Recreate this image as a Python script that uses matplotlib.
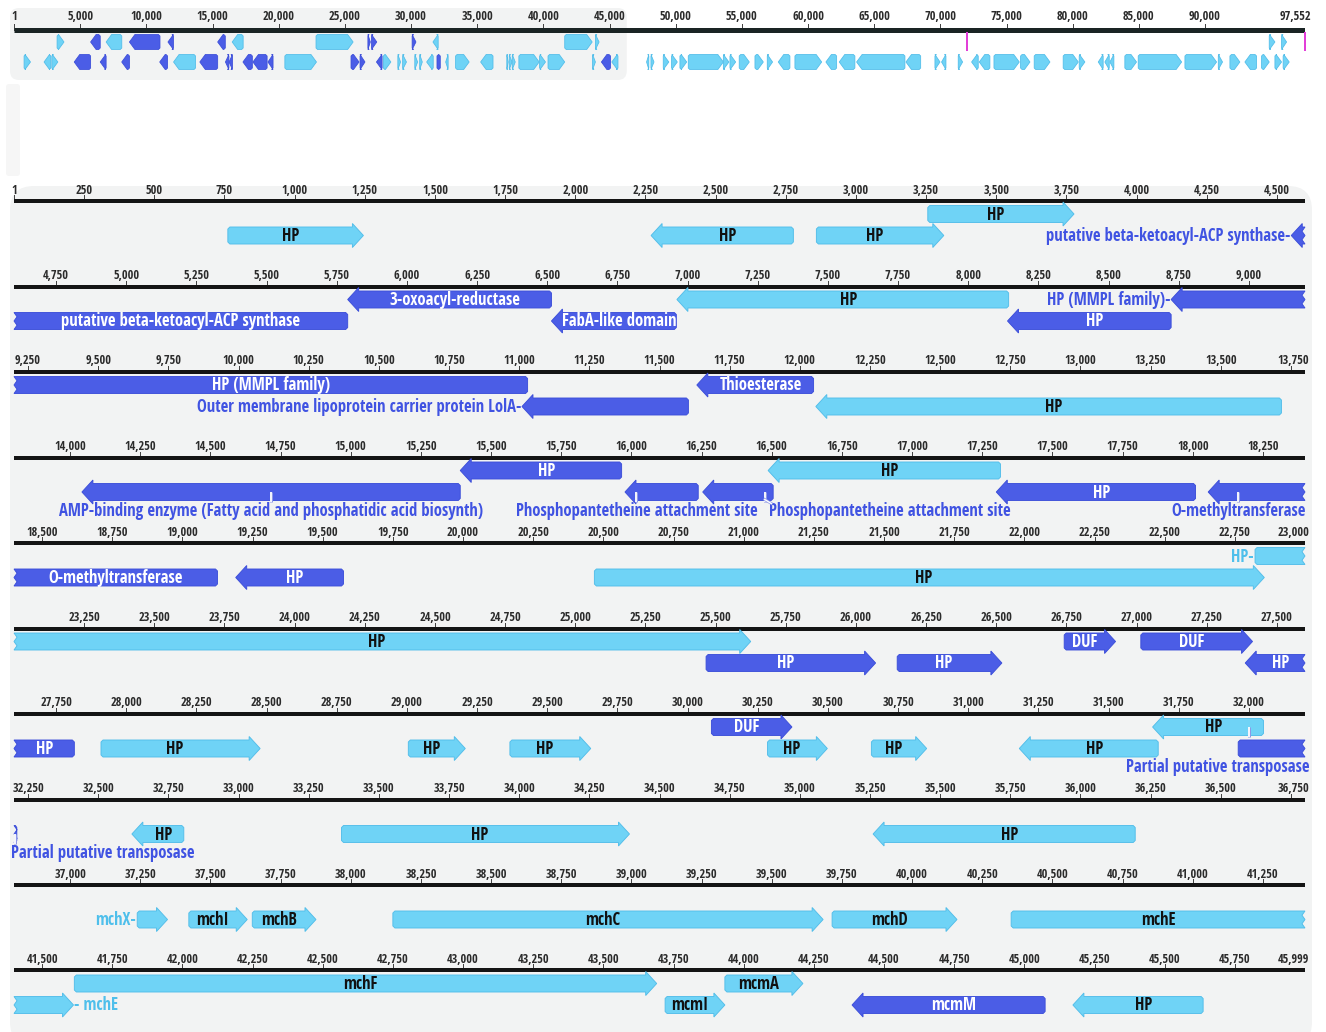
import matplotlib
matplotlib.use("Agg")
import matplotlib.pyplot as plt
import matplotlib.patheffects as pe
from matplotlib import font_manager, transforms
from matplotlib.patches import Polygon, FancyBboxPatch

# ------------------------------------------------------------------ data
# Annotated features of the detailed region (positions in bp)
feat_start = [762, 2270, 2859, 3256, 4551, 5789, 6515, 6962, 8140, 8723,
              11010, 11633, 12057, 14042, 15390, 15977, 16254, 16487, 17300, 18055,
              19190, 20468, 22822, 25466, 26147, 26742, 27015, 27387, 27910, 29005,
              29367, 30085, 30285, 30655, 31182, 31657, 31962, 32620, 33367, 35261,
              37239, 37423, 37649, 38150, 39715, 40353, 41615, 43720, 43933, 44386,
              45173]
feat_end = [1245, 2777, 3313, 3777, 5789, 6515, 6960, 8144, 8723, 11030,
            11603, 12049, 13716, 15390, 15965, 16238, 16505, 17315, 18010, 19125,
            19574, 22855, 25625, 26070, 26520, 26925, 27413, 27815, 28477, 29208,
            29655, 30372, 30498, 30852, 31677, 32052, 32210, 32805, 34393, 36195,
            37347, 37631, 37876, 39683, 40160, 41612, 43690, 43933, 44211, 45074,
            45637]
feat_strand = [1, -1, 1, 1, -1, -1, -1, -1, -1, -1,
               -1, -1, -1, -1, -1, -1, -1, -1, -1, -1,
               -1, 1, 1, 1, 1, 1, 1, -1, 1, 1,
               1, 1, 1, 1, -1, -1, 0, -1, 1, -1,
               1, 1, 1, 1, 1, 1, 1, 1, 1, -1,
               -1]
feat_lane = [2, 2, 2, 1, 2, 1, 2, 1, 2, 1,
             2, 1, 2, 2, 1, 2, 2, 1, 2, 2,
             2, 2, 1, 2, 2, 1, 1, 2, 2, 2,
             2, 1, 2, 2, 2, 1, 2, 2, 2, 2,
             2, 2, 2, 2, 2, 2, 1, 2, 1, 2,
             2]
feat_kind = ["light", "light", "light", "light", "dark", "dark", "dark", "light", "dark", "dark",
             "dark", "dark", "light", "dark", "dark", "dark", "dark", "light", "dark", "dark",
             "dark", "light", "light", "dark", "dark", "dark", "dark", "dark", "light", "light",
             "light", "dark", "light", "light", "light", "light", "dark", "light", "light", "light",
             "light", "light", "light", "light", "light", "light", "light", "light", "light", "dark",
             "light"]
feat_label = ["HP", "HP", "HP", "HP", "putative beta-ketoacyl-ACP synthase",
              "3-oxoacyl-reductase", "FabA-like domain", "HP", "HP", "HP (MMPL family)",
              "Outer membrane lipoprotein carrier protein LolA", "Thioesterase", "HP", "", "HP",
              "", "", "HP", "HP", "O-methyltransferase",
              "HP", "HP", "HP", "HP", "HP", "DUF", "DUF", "HP", "HP", "HP",
              "HP", "DUF", "HP", "HP", "HP", "HP", "", "HP", "HP", "HP",
              "mchX", "mchI", "mchB", "mchC", "mchD", "mchE", "mchF", "mcmI", "mcmA", "mcmM",
              "HP"]

# Annotated sites inside features
site_pos = [14717, 16018, 16475, 18162, 31999, 32205]
site_label = ["AMP-binding enzyme (Fatty acid and phosphatidic acid biosynth)",
              "Phosphopantetheine attachment site",
              "Phosphopantetheine attachment site",
              "O-methyltransferase",
              "Partial putative transposase",
              "Partial putative transposase"]

# Remaining genes of the sequence (overview only)
ov_start = [47800, 48130, 49060, 49690, 50320, 50950, 53600, 54100, 54800, 55990,
            56920, 57750, 59010, 61350, 62360, 63670, 67400, 69590, 70090, 71350,
            72360, 72940, 74050, 76060, 77090, 79280, 80490, 81930, 82430, 82810,
            83940, 84950, 88480, 91000, 91880, 93010, 94270, 95280, 95900, 94850,
            95780]
ov_end = [47970, 48360, 49480, 50120, 50830, 53600, 54020, 54530, 55560, 56620,
          57320, 58630, 61030, 62160, 63540, 67320, 68510, 69970, 70420, 71680,
          72860, 73740, 75960, 76770, 78280, 80420, 80920, 82300, 82760, 83110,
          84820, 88230, 90870, 91320, 92630, 93890, 94850, 95780, 96360, 95280,
          96160]
ov_strand = [-1, 1, 1, 1, 1, 1, 1, 1, 1, 1,
             1, -1, 1, -1, -1, -1, -1, 1, -1, 1,
             -1, -1, 1, 1, 1, 1, 1, -1, -1, -1,
             1, 1, 1, 1, 1, -1, 1, 1, 1, 1,
             1]
ov_lane = [2] * 39 + [1, 1]

marker_pos = [71980, 97552]

SEQ_LEN = 97552
DETAIL_END = 45999
ROW_BP = 4600
N_ROWS = 10
ROW_TICK = 250
OV_TICK = 5000

# segment label placements that differ from the width rule: (feature start, row) -> mode
LABEL_MODE = {(22822, 4): "out", (40353, 9): "out", (8723, 1): "out", (6515, 1): "in"}

# ------------------------------------------------------------------ style
W, H, DPI = 1326, 1032, 100
X0, XW = 14, 1291
LIGHT_FILL, LIGHT_EDGE = "#6fd3f6", "#52bde9"
DARK_FILL, DARK_EDGE = "#4b5de6", "#3c4ed9"
DARK_TEXT, LIGHT_TEXT = "#4053e2", "#4fbfeb"
RULER = "#141414"
TICK_TEXT = "#2b2b2b"
PANEL = "#f2f3f3"
MAGENTA = "#e23fd8"


def first_font(names, fallback="DejaVu Sans"):
    for name in names:
        try:
            font_manager.findfont(font_manager.FontProperties(family=name),
                                  fallback_to_default=False)
            return name
        except ValueError:
            continue
    return fallback


FONT = first_font(["Liberation Sans Narrow", "Open Sans Condensed", "Noto Sans Condensed",
                   "Roboto Condensed", "Liberation Sans"])
SCALE = 1.0 if FONT != "Liberation Sans" else 0.86
LBL = 12.0 * SCALE
TCK = 8.8 * SCALE


def px(v):
    return v * 72.0 / DPI


def feature_poly(a, b, lt, rt, c, k, head, hb, hh, jag=3.0, ch=2.0):
    """Outline of one feature piece; a, b in bp, sizes in pixels (k = px per bp)."""
    L = head / k
    j = jag / k
    cb = ch / k
    seg = b - a
    hl = min(L, seg)
    top, bot = c - hb, c + hb
    if rt == "head":
        bx = b - hl
        right = [(bx, top), (bx, c - hh), (b, c), (bx, c + hh), (bx, bot)]
    elif rt == "cont":
        right = [(b, top), (b - j, c - hb / 2), (b, c), (b - j, c + hb / 2), (b, bot)]
    else:
        cc = min(cb, seg / 2)
        right = [(b - cc, top), (b, top + ch), (b, bot - ch), (b - cc, bot)]
    if lt == "head":
        ax_ = a + hl
        left = [(ax_, bot), (ax_, c + hh), (a, c), (ax_, c - hh), (ax_, top)]
    elif lt == "cont":
        left = [(a, bot), (a + j, c + hb / 2), (a, c), (a + j, c - hb / 2), (a, top)]
    else:
        cc = min(cb, seg / 2)
        left = [(a + cc, bot), (a, bot - ch), (a, top + ch), (a + cc, top)]
    return right + left


def colors(kind):
    return (DARK_FILL, DARK_EDGE) if kind == "dark" else (LIGHT_FILL, LIGHT_EDGE)


fig = plt.figure(figsize=(W / DPI, H / DPI), dpi=DPI)
fig.patch.set_facecolor("white")
renderer = fig.canvas.get_renderer()


def text_width(s, weight):
    t = fig.text(0, 0, s, fontsize=LBL, family=FONT, fontweight=weight)
    w = t.get_window_extent(renderer).width
    t.remove()
    return w


# ------------------------------------------------------------------ background panels
bg = fig.add_axes([0, 0, 1, 1])
bg.set_xlim(0, W)
bg.set_ylim(H, 0)
bg.axis("off")
ov_k = XW / SEQ_LEN
xa = X0 - 4
xb = X0 + (DETAIL_END + 1) * ov_k + 4
bg.add_patch(FancyBboxPatch((xa, 8), xb - xa, 72, boxstyle="round,pad=0,rounding_size=9",
                            fc=PANEL, ec="none"))
bg.add_patch(FancyBboxPatch((6, 84), 14, 92, boxstyle="round,pad=0,rounding_size=3",
                            fc="#f6f6f6", ec="none"))
bg.add_patch(FancyBboxPatch((10, 186), 1302, 860, boxstyle="round,pad=0,rounding_size=24",
                            fc=PANEL, ec="none"))

# ------------------------------------------------------------------ overview track
OV_RULER = 30
ov = fig.add_axes([X0 / W, 1 - (OV_RULER + 52) / H, XW / W, 78 / H])
ov.set_xlim(0, SEQ_LEN)
ov.set_ylim(52, -26)
ov.axis("off")
ov.plot([1, SEQ_LEN], [0, 0], color="#1a2424", lw=px(5), solid_capstyle="butt", zorder=2)
ov_ticks = [1] + list(range(OV_TICK, SEQ_LEN - OV_TICK, OV_TICK)) + [SEQ_LEN]
for t in ov_ticks:
    ov.plot([t, t], [-6, 0], color="#444444", lw=px(1), zorder=1)
    ha = "center"
    if t == SEQ_LEN:
        ha = "right"
    ov.text(t if ha == "center" else t + 6 / ov_k, -13, f"{t:,}", ha=ha, va="center",
            fontsize=TCK, family=FONT, color=TICK_TEXT)

OV_LANE = {1: 12, 2: 32}
all_s = feat_start + ov_start
all_e = feat_end + ov_end
all_d = feat_strand + ov_strand
all_l = feat_lane + ov_lane
all_k = feat_kind + ["light"] * len(ov_start)
for s, e, d, ln, kd in zip(all_s, all_e, all_d, all_l, all_k):
    fc, ec = colors(kd)
    lt = "head" if d < 0 else "flat"
    rt = "head" if d > 0 else "flat"
    verts = feature_poly(s, e, lt, rt, OV_LANE[ln], ov_k, 5.5, 7.5, 7.5, ch=1.5)
    ov.add_patch(Polygon(verts, closed=True, fc=fc, ec=ec, lw=px(0.8), zorder=3,
                         clip_on=False))
for m in marker_pos:
    ov.plot([m, m], [3, 20], color=MAGENTA, lw=px(2), zorder=4, clip_on=False)

# ------------------------------------------------------------------ detailed rows
row_k = XW / ROW_BP
HEAD, HB, HH = 11.0, 8.5, 12.0
LANE = {1: 13, 2: 34.5}
SITE_Y = 53
RULER_Y0, ROW_STEP = 201, 85.5

for r in range(N_ROWS):
    ry = RULER_Y0 + r * ROW_STEP
    top, bot = ry - 28, ry + 64
    ax = fig.add_axes([X0 / W, 1 - bot / H, XW / W, (bot - top) / H])
    rs = r * ROW_BP
    re = rs + ROW_BP
    ax.set_xlim(rs, re)
    ax.set_ylim(bot - ry, top - ry)
    ax.axis("off")

    # ruler
    r_end = min(re, DETAIL_END)
    ax.plot([max(rs, 1), r_end], [0, 0], color=RULER, lw=px(4), solid_capstyle="butt",
            zorder=2)
    ticks = [t for t in range((rs // ROW_TICK + 1) * ROW_TICK, r_end + 1, ROW_TICK)]
    if r == 0:
        ticks = [1] + ticks
    if r_end == DETAIL_END:
        ticks = ticks + [DETAIL_END]
    for t in ticks:
        ax.plot([t, t], [-6, 0], color="#444444", lw=px(1), zorder=1)
        if (re - t) * row_k < 18:
            ax.text(re + 4 / row_k, -11, f"{t:,}", ha="right", va="center",
                    fontsize=TCK, family=FONT, color=TICK_TEXT)
        else:
            ax.text(t, -11, f"{t:,}", ha="center", va="center",
                    fontsize=TCK, family=FONT, color=TICK_TEXT)

    # features
    for i in range(len(feat_start)):
        s, e = feat_start[i], feat_end[i]
        if e <= rs or s >= re:
            continue
        a, b = max(s, rs), min(e, re)
        d = feat_strand[i]
        lt = "cont" if s < rs else ("head" if d < 0 else "flat")
        rt = "cont" if e > re else ("head" if d > 0 else "flat")
        c = LANE[feat_lane[i]]
        fc, ec = colors(feat_kind[i])
        verts = feature_poly(a, b, lt, rt, c, row_k, HEAD, HB, HH)
        ax.add_patch(Polygon(verts, closed=True, fc=fc, ec=ec, lw=px(0.9), zorder=3,
                             clip_on=False))

        label = feat_label[i]
        if not label:
            continue
        Lb = HEAD / row_k
        ba = a + (min(Lb, b - a) if lt == "head" else 0)
        bb = b - (min(Lb, b - a) if rt == "head" else 0)
        body_px = (bb - ba) * row_k
        mode = "in" if text_width(label, "bold") + 8 <= body_px else "out"
        mode = LABEL_MODE.get((s, r), mode)
        has_site = any(s <= p <= e for p in site_pos)
        if mode == "out" and has_site:
            continue
        if mode == "in":
            ax.text((ba + bb) / 2, c + 0.5, label, ha="center", va="center",
                    fontsize=LBL, family=FONT, fontweight="bold",
                    color="white" if feat_kind[i] == "dark" else "#111111", zorder=5)
        else:
            tcol = DARK_TEXT if feat_kind[i] == "dark" else LIGHT_TEXT
            left_room = (a - rs) * row_k
            if text_width(label + "-", "normal") + 4 <= left_room:
                tr = transforms.offset_copy(ax.transData, fig=fig, x=-1, y=0, units="dots")
                ax.text(a, c + 0.5, label + "-", ha="right", va="center", transform=tr,
                        fontsize=LBL, family=FONT, color=tcol, zorder=5)
            else:
                tr = transforms.offset_copy(ax.transData, fig=fig, x=1, y=0, units="dots")
                ax.text(b, c + 0.5, "- " + label, ha="left", va="center", transform=tr,
                        fontsize=LBL, family=FONT, color=tcol, zorder=5)

    # sites
    prev_right = None
    for p, lab in sorted(zip(site_pos, site_label)):
        if not (rs <= p < re):
            continue
        host = [i for i in range(len(feat_start)) if feat_start[i] <= p <= feat_end[i]]
        c = LANE[feat_lane[host[0]]] if host else LANE[2]
        w = text_width(lab, "normal")
        xp = X0 + (p - rs) * row_k
        left = xp - w / 2
        left = max(11, min(left, 1309 - w))
        shifted = False
        if prev_right is not None and left < prev_right + 12:
            left = prev_right + 12
            shifted = True
        prev_right = left + w
        ax.plot([p, p], [c, c + HB + 1], color="white", lw=px(1.8), zorder=6,
                solid_capstyle="butt",
                path_effects=[pe.Stroke(linewidth=px(3), foreground="#8d97e6"), pe.Normal()])
        if shifted:
            lx = rs + (left + 2 - X0) / row_k
            ax.plot([p, lx], [c + HB - 1, SITE_Y - 7], color="white", lw=px(1.4), zorder=6,
                    path_effects=[pe.Stroke(linewidth=px(2.8), foreground="#8d97e6"),
                                  pe.Normal()], clip_on=False)
        ax.text(rs + (left - X0) / row_k, SITE_Y, lab, ha="left", va="center",
                fontsize=LBL, family=FONT, color=DARK_TEXT, zorder=5)

fig.savefig("out.png", dpi=DPI, facecolor="white")
